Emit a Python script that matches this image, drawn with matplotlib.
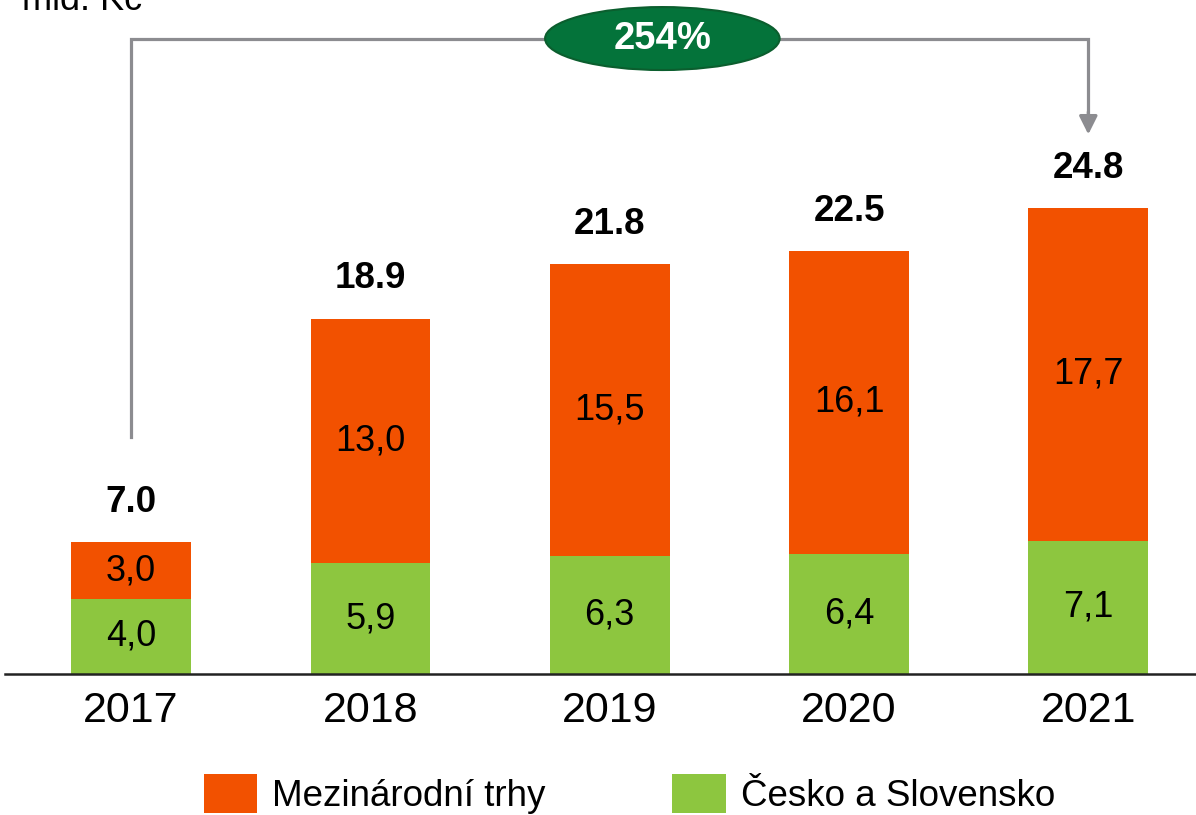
import matplotlib.pyplot as plt
from matplotlib.patches import Ellipse

plt.rcParams['font.family'] = ['Liberation Sans', 'DejaVu Sans']

years = ['2017', '2018', '2019', '2020', '2021']
cesko = [4.0, 5.9, 6.3, 6.4, 7.1]
mezinarodni = [3.0, 13.0, 15.5, 16.1, 17.7]
totals = [7.0, 18.9, 21.8, 22.5, 24.8]
growth = '254%'

orange = '#F25100'
green = '#8DC63F'
grey = '#8C8C90'

fig = plt.figure(figsize=(11.96, 8.15), dpi=100)
ax = fig.add_axes([5 / 1196, 141 / 815, 1191 / 1196, 674 / 815])

x = range(len(years))
b1 = ax.bar(x, cesko, width=0.5, color=green, label='Česko a Slovensko')
b2 = ax.bar(x, mezinarodni, width=0.5, bottom=cesko, color=orange, label='Mezinárodní trhy')

for i in x:
    ax.text(i, cesko[i] / 2, f'{cesko[i]:.1f}'.replace('.', ','),
            ha='center', va='center', fontsize=26)
    ax.text(i, cesko[i] + mezinarodni[i] / 2, f'{mezinarodni[i]:.1f}'.replace('.', ','),
            ha='center', va='center', fontsize=26)
    ax.annotate(f'{totals[i]:.1f}', (i, totals[i]), xytext=(0, 16), textcoords='offset points',
                ha='center', va='bottom', fontsize=26.5, fontweight='bold')

# growth connector 2017 -> 2021
y_start, y_top, y_end = 12.6, 33.8, 28.7
ax.plot([0, 0, 4, 4], [y_start, y_top, y_top, y_end + 0.6], color=grey, lw=2.3,
        clip_on=False, solid_joinstyle='miter')
ax.annotate('', xy=(4, y_end), xytext=(4, y_end + 1.2),
            arrowprops=dict(arrowstyle='-|>,head_width=0.55,head_length=1.1',
                            color=grey, lw=2.3, shrinkA=0, shrinkB=0))
ax.add_patch(Ellipse((2.22, y_top), 0.98, 3.35, facecolor='#04733A',
                     edgecolor='#0B5E2E', lw=1.5, zorder=5, clip_on=False))
ax.text(2.22, y_top, growth, ha='center', va='center', color='white',
        fontsize=27.5, fontweight='bold', zorder=6)

ax.set_xlim(-0.527, 4.45)
ax.set_ylim(0, 35.85)
ax.set_xticks(list(x))
ax.set_xticklabels(years, fontsize=31)
ax.tick_params(axis='x', length=0, pad=12)
ax.set_yticks([])
for s in ['top', 'left', 'right']:
    ax.spines[s].set_visible(False)
ax.spines['bottom'].set_color('#222222')
ax.spines['bottom'].set_linewidth(1.8)

fig.text(22 / 1196, 1 - 10 / 815, 'mld. Kč', fontsize=26, va='baseline')

fig.legend(handles=[b2, b1], loc='upper left', bbox_to_anchor=(204 / 1196, 0.0505),
           ncol=2, frameon=False, fontsize=26.5, handlelength=1.45, handleheight=1.25,
           handletextpad=0.4, columnspacing=3.45, borderpad=0, borderaxespad=0)

fig.savefig('out.png', dpi=100)
